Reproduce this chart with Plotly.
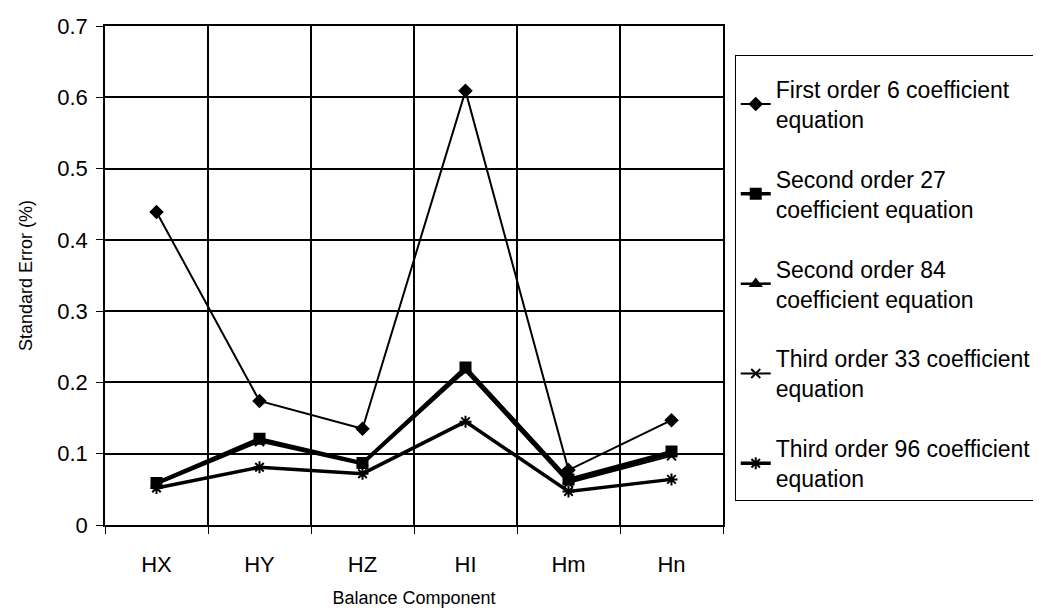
import plotly.graph_objects as go

categories = ["HX", "HY", "HZ", "HI", "Hm", "Hn"]
series_names = [
    "First order 6 coefficient<br>equation",
    "Second order 27<br>coefficient equation",
    "Second order 84<br>coefficient equation",
    "Third order 33 coefficient<br>equation",
    "Third order 96 coefficient<br>equation",
]
first_order_6 = [0.439, 0.174, 0.135, 0.609, 0.077, 0.147]
second_order_27 = [0.059, 0.121, 0.087, 0.221, 0.064, 0.103]
second_order_84 = [0.058, 0.119, 0.086, 0.218, 0.061, 0.100]
third_order_33 = [0.057, 0.117, 0.085, 0.216, 0.059, 0.097]
third_order_96 = [0.052, 0.081, 0.072, 0.145, 0.047, 0.064]

values = [first_order_6, second_order_27, second_order_84, third_order_33, third_order_96]
symbols = ["diamond", "square", "triangle-up", "x-thin", "asterisk"]
sizes = [9, 10, 9, 9, 10]
widths = [2, 3.5, 2.5, 2, 3.5]

FONT = "Liberation Sans, Arial, sans-serif"

fig = go.Figure()
for i, (name, vals) in enumerate(zip(series_names, values)):
    fig.add_trace(go.Scatter(
        x=categories, y=vals, name=name, mode="lines+markers",
        legendgroup=f"g{i}",
        line=dict(color="black", width=widths[i]),
        marker=dict(symbol=symbols[i], size=sizes[i], color="black",
                    line=dict(color="black", width=2)),
    ))

fig.update_layout(
    width=1041, height=614,
    margin=dict(l=97, r=323, t=18, b=97),
    paper_bgcolor="white", plot_bgcolor="white",
    font=dict(family=FONT, color="black", size=22),
    showlegend=True,
    legend=dict(
        x=1.019, xanchor="left", y=0.942, yanchor="top",
        bordercolor="black", borderwidth=1, bgcolor="white",
        font=dict(size=23, family=FONT),
        title=dict(text=" ", font=dict(size=9)),
        tracegroupgap=27, itemwidth=30,
    ),
    xaxis=dict(
        type="category", range=[-0.5, 5.5], tickson="boundaries",
        automargin=False,
        showgrid=True, gridcolor="black", gridwidth=1.5,
        showline=True, linecolor="black", linewidth=1.5, mirror=True,
        ticks="outside", ticklen=7, tickcolor="black",
        tickfont=dict(size=22), ticklabelstandoff=19,
        title=dict(text="Balance Component", font=dict(size=18), standoff=15),
        zeroline=False,
    ),
    yaxis=dict(
        range=[0, 0.7], dtick=0.1, tickformat="~g",
        automargin=False,
        showgrid=True, gridcolor="black", gridwidth=1.5,
        showline=True, linecolor="black", linewidth=1.5, mirror=True,
        ticks="outside", ticklen=7, tickcolor="black",
        tickfont=dict(size=22), ticklabelstandoff=4,
        title=dict(text="Standard Error (%)", font=dict(size=18), standoff=20),
        zeroline=False,
    ),
)

fig.write_html("out.html")
